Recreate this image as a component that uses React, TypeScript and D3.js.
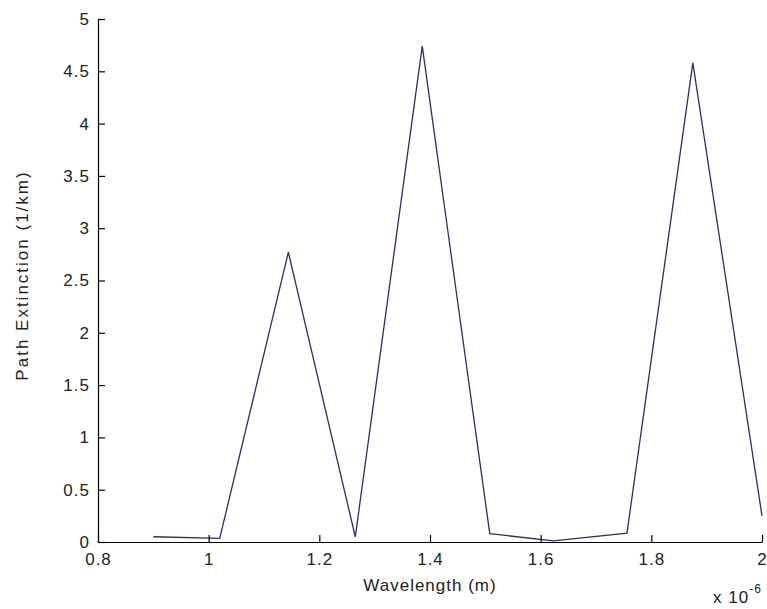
import React, { useEffect, useRef } from 'react';
import * as d3 from 'd3';

// wavelength in units of 1e-6 m, extinction in 1/km
const wavelengths = [0.9, 1.02, 1.144, 1.265, 1.386, 1.508, 1.623, 1.756, 1.875, 2.0];
const extinction = [0.05, 0.035, 2.77, 0.05, 4.74, 0.08, 0.01, 0.085, 4.58, 0.25];
const xTicks = [0.8, 1, 1.2, 1.4, 1.6, 1.8, 2];
const yTicks = [0, 0.5, 1, 1.5, 2, 2.5, 3, 3.5, 4, 4.5, 5];

const App = () => {
    const svgRef = useRef<SVGSVGElement>(null);

    useEffect(() => {
        const svg = d3.select(svgRef.current);
        svg.selectAll('*').remove();

        const width = 767;
        const height = 609;
        const margin = { top: 19, right: 5, bottom: 67, left: 98 };
        const font = '"Liberation Sans", Arial, sans-serif';

        const x = d3.scaleLinear().domain([0.8, 2]).range([margin.left, width - margin.right]);
        const y = d3.scaleLinear().domain([0, 5]).range([height - margin.bottom, margin.top]);

        // line
        const line = d3.line<number>()
            .x((d, i) => x(wavelengths[i]))
            .y(d => y(d));

        svg.append('path')
            .datum(extinction)
            .attr('fill', 'none')
            .attr('stroke', '#2c2c72')
            .attr('stroke-width', 1.3)
            .attr('stroke-linejoin', 'miter')
            .attr('d', line);

        // axes, ticks pointing inward
        const xAxis = d3.axisBottom(x)
            .tickValues(xTicks)
            .tickFormat(d => d3.format('~g')(d as number))
            .tickSizeInner(-7)
            .tickSizeOuter(0)
            .tickPadding(11);

        const yAxis = d3.axisLeft(y)
            .tickValues(yTicks)
            .tickFormat(d => d3.format('~g')(d as number))
            .tickSizeInner(-7)
            .tickSizeOuter(0)
            .tickPadding(8);

        const gx = svg.append('g')
            .attr('transform', `translate(0,${height - margin.bottom})`)
            .call(xAxis);
        const gy = svg.append('g')
            .attr('transform', `translate(${margin.left},0)`)
            .call(yAxis);

        [gx, gy].forEach(g => {
            g.attr('font-family', font).attr('font-size', 17);
            g.select('.domain').attr('stroke', '#000').attr('stroke-width', 1.2);
            g.selectAll('.tick line').attr('stroke', '#000').attr('stroke-width', 1.2);
            g.selectAll('.tick text').attr('fill', '#222').attr('letter-spacing', '1px');
        });

        // axis labels
        svg.append('text')
            .attr('x', (margin.left + width - margin.right) / 2)
            .attr('y', 591)
            .attr('text-anchor', 'middle')
            .attr('font-family', font)
            .attr('font-size', 17)
            .attr('fill', '#222')
            .attr('letter-spacing', '1px')
            .text('Wavelength (m)');

        svg.append('text')
            .attr('transform', `translate(28,${(margin.top + height - margin.bottom) / 2 - 5}) rotate(-90)`)
            .attr('text-anchor', 'middle')
            .attr('font-family', font)
            .attr('font-size', 17)
            .attr('fill', '#222')
            .attr('letter-spacing', '2px')
            .text('Path Extinction (1/km)');

        // exponent label
        const expo = svg.append('text')
            .attr('x', 713)
            .attr('y', 603)
            .attr('font-family', font)
            .attr('font-size', 17)
            .attr('fill', '#222')
            .attr('letter-spacing', '1px');
        expo.append('tspan').text('x 10');
        expo.append('tspan').attr('dy', -10).attr('font-size', 12).text('-6');
    }, []);

    return (
        <svg
            ref={svgRef}
            width={767}
            height={609}
            style={{ position: 'absolute', left: 0, top: 0, background: '#fff' }}
        />
    );
};

export default App;
